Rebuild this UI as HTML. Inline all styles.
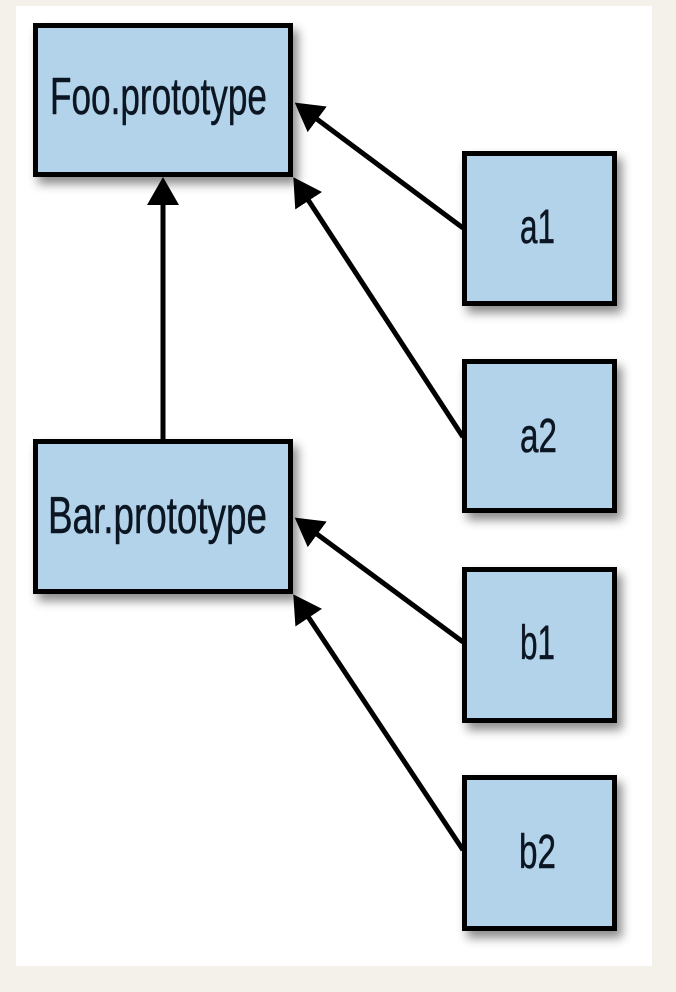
<!DOCTYPE html>
<html>
<head>
<meta charset="utf-8">
<style>
  html, body { margin: 0; padding: 0; background: #f4f1eb; }
  body { width: 676px; height: 992px; overflow: hidden; position: relative; }
  svg { position: absolute; left: 0; top: 0; }
  text { font-family: "Liberation Sans Narrow", "Liberation Sans", sans-serif; fill: #0c1622; stroke: #0c1622; stroke-width: 0.5; }
</style>
</head>
<body>
<svg width="676" height="992" viewBox="0 0 676 992" xmlns="http://www.w3.org/2000/svg">
  <defs>
    <filter id="sh" x="-20%" y="-20%" width="150%" height="150%">
      <feDropShadow dx="5" dy="7" stdDeviation="5" flood-color="#000" flood-opacity="0.45"/>
    </filter>
    <marker id="ah" markerUnits="userSpaceOnUse" markerWidth="30" markerHeight="34" refX="14" refY="16" orient="auto">
      <path d="M0,0 L28,16 L0,32 z" fill="#000"/>
    </marker>
  </defs>

  <rect x="0" y="0" width="676" height="992" fill="#f4f1eb"/>
  <rect x="16" y="6" width="636" height="960" fill="#ffffff"/>

  <!-- boxes -->
  <g filter="url(#sh)" fill="#b3d3ea" stroke="#000" stroke-width="5">
    <rect x="35.5" y="25.5" width="255" height="149"/>
    <rect x="35.5" y="441.5" width="255" height="150"/>
    <rect x="464.5" y="153.5" width="150" height="150"/>
    <rect x="464.5" y="361.5" width="150" height="149"/>
    <rect x="464.5" y="569.5" width="150" height="151"/>
    <rect x="464.5" y="777.5" width="150" height="151"/>
  </g>

  <!-- connectors -->
  <g stroke="#000" stroke-width="5" fill="none">
    <line x1="163" y1="439" x2="163" y2="191" marker-end="url(#ah)"/>
    <line x1="463" y1="228" x2="306" y2="111" marker-end="url(#ah)"/>
    <line x1="463" y1="437" x2="301" y2="189" marker-end="url(#ah)"/>
    <line x1="463" y1="642" x2="306" y2="526" marker-end="url(#ah)"/>
    <line x1="463" y1="850" x2="301" y2="606" marker-end="url(#ah)"/>
  </g>

  <!-- labels -->
  <text x="50" y="114" font-size="52" textLength="217" lengthAdjust="spacingAndGlyphs">Foo.prototype</text>
  <text x="48" y="533" font-size="52" textLength="219" lengthAdjust="spacingAndGlyphs">Bar.prototype</text>
  <text x="520" y="243" font-size="48" textLength="35" lengthAdjust="spacingAndGlyphs">a1</text>
  <text x="520" y="452" font-size="48" textLength="37" lengthAdjust="spacingAndGlyphs">a2</text>
  <text x="520" y="659" font-size="48" textLength="35" lengthAdjust="spacingAndGlyphs">b1</text>
  <text x="519" y="868" font-size="48" textLength="37" lengthAdjust="spacingAndGlyphs">b2</text>
</svg>
</body>
</html>
